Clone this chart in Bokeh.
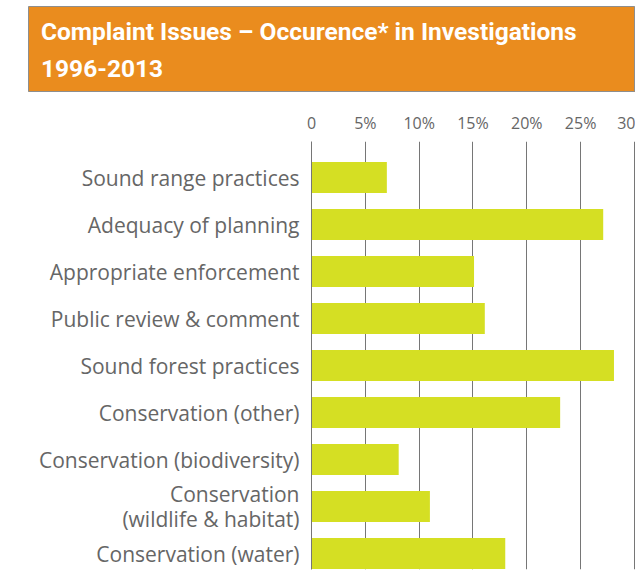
from bokeh.plotting import figure
from bokeh.layouts import column, row
from bokeh.models import Range1d, FixedTicker, Label
from bokeh.embed import file_html
from bokeh.resources import INLINE

# ---- data ----
title_line1 = "Complaint Issues – Occurence* in Investigations"
title_line2 = "1996-2013"
categories = [
    "Sound range practices",
    "Adequacy of planning",
    "Appropriate enforcement",
    "Public review & comment",
    "Sound forest practices",
    "Conservation (other)",
    "Conservation (biodiversity)",
    "Conservation\n(wildlife & habitat)",
    "Conservation (water)",
]
occurrence = [7.0, 27.1, 15.1, 16.1, 28.1, 23.1, 8.1, 11.0, 18.0]
tick_values = [0, 5, 10, 15, 20, 25, 30]
tick_labels = ["0", "5%", "10%", "15%", "20%", "25%", "30"]

# ---- styles ----
ORANGE = "#EA8C1E"
BAR = "#D5DF23"
GRID = "#767676"
TEXT = "#666666"
BORDER = "#8E8E8E"
TITLE_FONT = "Roboto"
BODY_FONT = "Open Sans"

W = 635
HDR_H = 92
HDR_TOP = 6
BODY_H = 486
LEFT_W = 29

# ---- header ----
hdr = figure(width=W, height=HDR_H, output_backend="svg", toolbar_location=None,
             x_range=Range1d(0, W - 28), y_range=Range1d(0, HDR_H - HDR_TOP),
             x_axis_location=None, y_axis_location=None,
             min_border_left=28, min_border_right=0, min_border_top=HDR_TOP, min_border_bottom=0)
hdr.grid.visible = False
hdr.background_fill_color = ORANGE
hdr.border_fill_color = "white"
hdr.outline_line_color = BORDER
for txt, yy in [(title_line1, 61.5), (title_line2, 24.5)]:
    hdr.add_layout(Label(x=12.5, y=yy, text=txt, text_color="white",
                         text_font=TITLE_FONT, text_font_style="bold",
                         text_font_size="24.5px", text_baseline="alphabetic"))

# ---- left border strip ----
left = figure(width=LEFT_W, height=BODY_H, output_backend="svg", toolbar_location=None,
              x_range=Range1d(0, LEFT_W), y_range=Range1d(0, 1),
              x_axis_location=None, y_axis_location=None, min_border=0)
left.grid.visible = False
left.outline_line_color = None
left.vspan(x=[LEFT_W - 0.5], line_color=BORDER, line_width=1)

# ---- chart ----
n = len(categories)
ypos = list(range(n))
p = figure(width=W - LEFT_W, height=BODY_H, output_backend="svg", toolbar_location=None,
           x_range=Range1d(0, 30.1), y_range=Range1d(n - 1 + 0.34, -0.766),
           x_axis_location="above",
           min_border_left=282, min_border_right=0, min_border_top=49, min_border_bottom=9)
p.outline_line_color = None
p.background_fill_color = "white"
p.border_fill_color = "white"

p.hbar(y=ypos, left=0, right=occurrence, height=0.66, fill_color=BAR, line_color=None)

p.xaxis.ticker = FixedTicker(ticks=tick_values)
p.xaxis.major_label_overrides = dict(zip(tick_values, tick_labels))
p.xaxis.axis_line_color = None
p.xaxis.major_tick_line_color = None
p.xaxis.minor_tick_line_color = None
p.xaxis.major_tick_out = 0
p.xaxis.major_tick_in = 0
p.xaxis.major_label_standoff = 8
p.xaxis.major_label_text_font = BODY_FONT
p.xaxis.major_label_text_font_size = "16px"
p.xaxis.major_label_text_color = TEXT

p.xgrid.grid_line_color = GRID
p.xgrid.grid_line_width = 1
p.ygrid.visible = False

p.yaxis.ticker = FixedTicker(ticks=ypos)
p.yaxis.major_label_overrides = {i: c for i, c in enumerate(categories)}
p.yaxis.axis_line_color = GRID
p.yaxis.major_tick_line_color = None
p.yaxis.minor_tick_line_color = None
p.yaxis.major_tick_out = 0
p.yaxis.major_tick_in = 0
p.yaxis.major_label_standoff = 12
p.yaxis.major_label_text_font = BODY_FONT
p.yaxis.major_label_text_font_size = "21px"
p.yaxis.major_label_text_color = TEXT
p.yaxis.major_label_text_line_height = 0.9

layout = column(hdr, row(left, p, spacing=0), spacing=0)
open("out.html", "w").write(file_html(layout, INLINE))
